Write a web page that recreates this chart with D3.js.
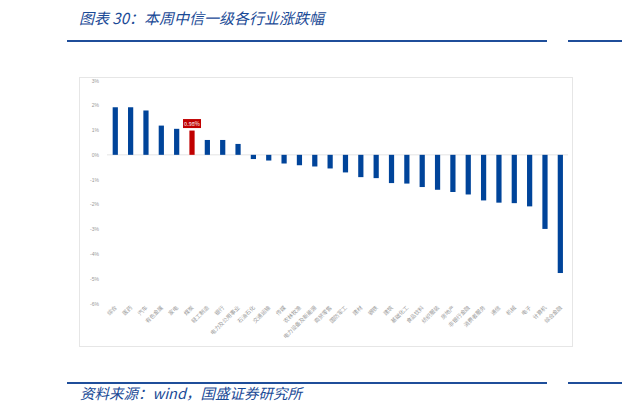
<!DOCTYPE html>
<html>
<head>
<meta charset="utf-8">
<script src="https://cdn.jsdelivr.net/npm/d3@7"></script>
<style>
	body { margin: 0; background: #fff; }
	svg { display: block; font-family: "Noto Sans CJK SC", "Noto Sans", sans-serif; }
</style>
</head>
<body>
<script>
const industries = ['综合', '医药', '汽车', '有色金属', '家电', '煤炭', '轻工制造', '银行', '电力及公用事业', '石油石化',
	'交通运输', '传媒', '农林牧渔', '电力设备及新能源', '商贸零售', '国防军工', '建材', '钢铁', '建筑', '基础化工',
	'食品饮料', '纺织服装', '房地产', '非银行金融', '消费者服务', '通信', '机械', '电子', '计算机', '综合金融'];
const changes = [1.92, 1.92, 1.79, 1.18, 1.05, 0.98, 0.60, 0.60, 0.44, -0.17,
	-0.23, -0.35, -0.42, -0.47, -0.55, -0.71, -0.90, -0.94, -1.14, -1.16,
	-1.30, -1.41, -1.50, -1.60, -1.84, -1.93, -1.95, -2.08, -2.99, -4.77];
const yTicks = [3, 2, 1, 0, -1, -2, -3, -4, -5, -6];
const highlight = '煤炭';

const svg = d3.select('body').append('svg')
	.attr('width', 622)
	.attr('height', 415);

// header / footer
svg.append('text')
	.attr('x', 79).attr('y', 24)
	.attr('fill', '#1a4a96')
	.attr('font-size', 15)
	.attr('font-style', 'italic')
	.text('图表 30：本周中信一级各行业涨跌幅');

[41, 383].forEach(y => {
	svg.append('line').attr('x1', 67).attr('x2', 547).attr('y1', y).attr('y2', y)
		.attr('stroke', '#1f4e9a').attr('stroke-width', 2);
	svg.append('line').attr('x1', 568).attr('x2', 622).attr('y1', y).attr('y2', y)
		.attr('stroke', '#1f4e9a').attr('stroke-width', 2);
});

svg.append('text')
	.attr('x', 80).attr('y', 399)
	.attr('fill', '#1a4a96')
	.attr('font-size', 14.5)
	.attr('font-style', 'italic')
	.text('资料来源：wind，国盛证券研究所');

// chart panel
svg.append('rect')
	.attr('x', 79.5).attr('y', 77.5)
	.attr('width', 493).attr('height', 269)
	.attr('fill', '#fff')
	.attr('stroke', '#e6e6e6');

const x = d3.scaleBand()
	.domain(industries)
	.range([107.6, 568])
	.paddingInner(0.66)
	.paddingOuter(0.33);

const y = d3.scaleLinear()
	.domain([-6, 3])
	.range([303.5, 80.5]);

// y axis labels
svg.append('g')
	.attr('transform', 'translate(102,0)')
	.call(d3.axisLeft(y).tickValues(yTicks).tickSize(0).tickFormat(d => d + '%'))
	.call(g => g.select('.domain').remove())
	.selectAll('text')
	.attr('fill', '#999')
	.attr('font-size', 5)
	.attr('dx', 0);

// zero line
svg.append('line')
	.attr('x1', 107).attr('x2', 568)
	.attr('y1', y(0)).attr('y2', y(0))
	.attr('stroke', '#e4e4e4')
	.attr('stroke-width', 1);

svg.selectAll('rect.bar')
	.data(industries)
	.enter()
	.append('rect')
	.attr('class', 'bar')
	.attr('x', d => x(d))
	.attr('width', x.bandwidth())
	.attr('y', (d, i) => y(Math.max(0, changes[i])))
	.attr('height', (d, i) => Math.abs(y(changes[i]) - y(0)))
	.attr('fill', d => d === highlight ? '#c00000' : '#00449a');

// data label for highlighted bar
const hi = industries.indexOf(highlight);
const cx = x(highlight) + x.bandwidth() / 2;
const ly = y(changes[hi]) - 7;
svg.append('rect')
	.attr('x', cx - 9).attr('y', ly - 4.5)
	.attr('width', 18).attr('height', 9)
	.attr('fill', '#c00000');
svg.append('text')
	.attr('x', cx).attr('y', ly + 2)
	.attr('text-anchor', 'middle')
	.attr('fill', '#fff')
	.attr('font-size', 5.5)
	.text(changes[hi].toFixed(2) + '%');

// x labels, rotated
svg.selectAll('text.cat')
	.data(industries)
	.enter()
	.append('text')
	.attr('class', 'cat')
	.attr('transform', d => `translate(${x(d) + x.bandwidth() / 2 + 2},308) rotate(-45)`)
	.attr('text-anchor', 'end')
	.attr('fill', '#999')
	.attr('font-size', 5.5)
	.text(d => d);
</script>
</body>
</html>
